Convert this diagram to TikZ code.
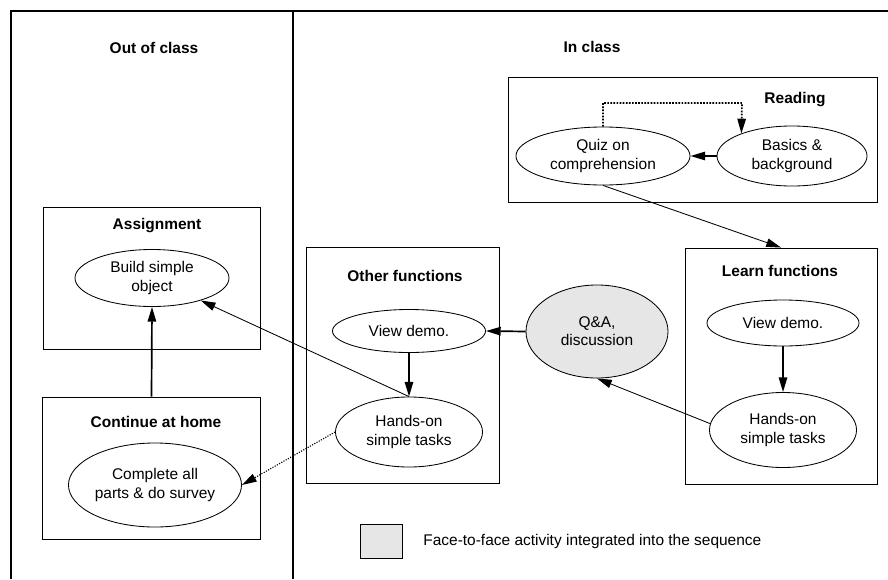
\documentclass[tikz,border=0pt]{standalone}
\usepackage{fontspec}
\setmainfont{Liberation Sans}
\usetikzlibrary{%
	arrows.meta,%
	shapes.geometric,%
	positioning,%
}
\definecolor{cfacegray}{RGB}{230, 230, 230}
\newcommand{\diagfont}{\fontsize{11}{13}\selectfont}
\tikzset{
	>={Triangle[length=10.5pt, width=6pt]},%
	nodes={align=center},%
	groupbox/.style={%
			draw,%
			rectangle,%
			line width=0.6pt,%
			inner sep=0},%
	actnode/.style={%
			draw,%
			ellipse,%
			line width=0.6pt,%
			inner sep=0,%
			fill=white},%
	facenode/.style={%
			actnode,%
			fill=cfacegray},%
	titlenode/.style={%
			font=\diagfont\bfseries},%
	flow/.style={->, line width=1.2pt},%
	link/.style={->, line width=0.6pt},%
	framerule/.style={line width=1.5pt},%
}

\begin{document}
\begin{tikzpicture}[x=0.025cm, y=-0.025cm, nodes={font=\diagfont}]%
	\useasboundingbox (0,0) rectangle (888,579);

	% frame
	\draw[framerule] (11,579) -- (11,11) -- (888,11);
	\draw[framerule] (293,11) -- (293,579);
	\node[titlenode] (outclass) at (154,48) {Out of class};
	\node[titlenode] (inclass) at (592,47) {In class};

	% group boxes
	\node[groupbox, minimum width=9.225cm, minimum height=3.125cm] (reading) at (692.5,139.5) {};
	\node[groupbox, minimum width=4.8cm, minimum height=5.9cm] (learn) at (781,366) {};
	\node[groupbox, minimum width=4.825cm, minimum height=5.9cm] (other) at (402.5,365) {};
	\node[groupbox, minimum width=5.425cm, minimum height=3.55cm] (assign) at (151.5,278) {};
	\node[groupbox, minimum width=5.45cm, minimum height=3.55cm] (cont) at (151.5,468) {};

	\node[titlenode] (readingt) at (795,100) {Reading};
	\node[titlenode] (learnt) at (780,271) {Learn functions};
	\node[titlenode] (othert) at (405,276) {Other functions};
	\node[titlenode] (assignt) at (157,226) {Assignment};
	\node[titlenode] (contt) at (156,422) {Continue at home};

	% activities
	\node[actnode, minimum width=4.35cm, minimum height=1.45cm] (quiz) at (603,156) {Quiz on\\comprehension};
	\node[actnode, minimum width=3.75cm, minimum height=1.5cm] (basics) at (792,156) {Basics \&\\background};
	\node[actnode, minimum width=3.8cm, minimum height=1.15cm] (lview) at (783,323) {View demo.};
	\node[actnode, minimum width=3.675cm, minimum height=1.875cm] (lhands) at (783,430) {Hands-on\\simple tasks};
	\node[facenode, minimum width=3.55cm, minimum height=2.325cm] (qa) at (597,331.5) {Q\&A,\\discussion};
	\node[actnode, minimum width=3.825cm, minimum height=1.075cm] (oview) at (409,331) {View demo.};
	\node[actnode, minimum width=3.675cm, minimum height=1.75cm] (ohands) at (409,432) {Hands-on\\simple tasks};
	\node[actnode, minimum width=3.85cm, minimum height=1.425cm] (build) at (152,278) {Build simple\\object};
	\node[actnode, minimum width=4.325cm, minimum height=2.1cm] (complete) at (155,485) {Complete all\\parts \& do survey};

	% legend
	\node[groupbox, fill=cfacegray, minimum width=1.05cm, minimum height=0.85cm] (legend) at (381,541) {};
	\node[right=0.4cm of legend] (legendt) {Face-to-face activity integrated into the sequence};

	% connectors
	\coordinate (rdturn) at (742,103);
	\draw[flow, densely dotted] (quiz.north) |- (rdturn) -- (basics.156);
	\draw[flow] (basics.west) to (quiz.east);
	\draw[link] (quiz.south) to (learn.north);
	\draw[flow] (lview) to (lhands);
	\draw[link] (lhands.175) to (qa.south);
	\draw[flow] (qa.west) to (oview.east);
	\draw[flow] (oview) to (ohands);
	\draw[link] (ohands.north) to (build);
	\draw[link, line width=0.8pt, densely dotted] (ohands.west) to (complete.east);
	\draw[flow] (cont.north) to (build.south);
\end{tikzpicture}
\end{document}
